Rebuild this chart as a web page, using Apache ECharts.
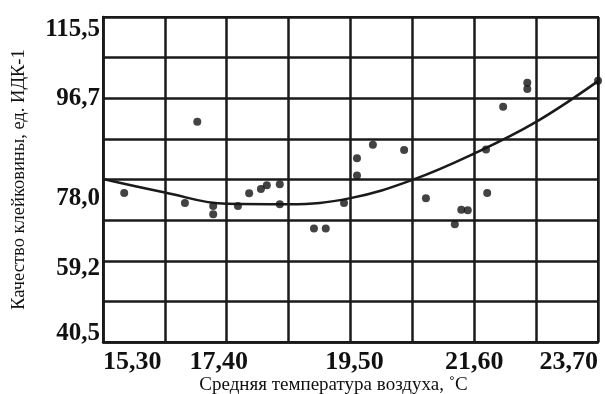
<!DOCTYPE html>
<html>
<head>
<meta charset="utf-8">
<script src="https://cdn.jsdelivr.net/npm/echarts@6/dist/echarts.min.js"></script>
<style>
  html, body { margin: 0; padding: 0; background: #fff; }
  #chart { width: 605px; height: 394px; }
</style>
</head>
<body>
<div id="chart"></div>
<script>
// Scatter: mean air temperature (°C) vs gluten quality (IDK-1 units)
const temperature = [15.66, 16.69, 17.17, 17.17, 17.59, 17.78, 17.98, 18.08, 18.30, 18.30,
                     16.90, 18.88, 19.08, 19.39, 19.61, 19.61, 19.88, 20.41, 20.78, 21.27,
                     21.38, 21.49, 21.82, 21.80, 22.09, 22.50, 22.50, 23.70];
const quality     = [74.9, 72.6, 71.9, 70.0, 71.9, 74.8, 75.8, 76.7, 76.9, 72.3,
                     91.3, 66.7, 66.7, 72.6, 78.9, 82.9, 86.0, 84.8, 73.7, 67.7,
                     71.0, 70.9, 74.9, 84.9, 94.8, 100.3, 98.9, 100.8];

// Trend curve read at each grid column
const curveTemp    = [15.30, 16.35, 17.40, 18.45, 19.50, 20.55, 21.60, 22.65, 23.70];
const curveQuality = [78.1, 75.0, 72.4, 72.3, 73.7, 77.9, 84.0, 91.3, 100.7];

// Axis ticks and their printed labels
const xTickValues = [15.30, 17.40, 19.50, 21.60, 23.70];
const xTickLabels = ['15,30', '17,40', '19,50', '21,60', '23,70'];
const yTickValues = [40.5, 59.25, 78.0, 96.75, 115.5];
const yTickLabels = ['40,5', '59,2', '78,0', '96,7', '115,5'];
// Grid lines (every half step)
const xGridValues = [15.30, 16.35, 17.40, 18.45, 19.50, 20.55, 21.60, 22.65, 23.70];
const yGridValues = [40.5, 49.875, 59.25, 68.625, 78.0, 87.375, 96.75, 106.125, 115.5];

const ink = '#1a1a1a';
const serif = '"Liberation Serif", "Times New Roman", serif';

function nearestIndex(arr, v) {
  let best = 0;
  for (let i = 1; i < arr.length; i++) {
    if (Math.abs(arr[i] - v) < Math.abs(arr[best] - v)) best = i;
  }
  return best;
}

const labelFont = { fontFamily: serif, fontWeight: 'bold', color: '#111' };
const yRich = {
  y0: Object.assign({ fontSize: 25, padding: [0, 0, 17, 0] }, labelFont),
  y1: Object.assign({ fontSize: 25, padding: [15, 0, 0, 0] }, labelFont),
  y2: Object.assign({ fontSize: 25, padding: [38, 0, 0, 0] }, labelFont),
  y3: Object.assign({ fontSize: 25, padding: [0, 0, 0, 0] }, labelFont),
  y4: Object.assign({ fontSize: 25, padding: [25, 0, 0, 0] }, labelFont)
};
const xRich = {
  x0: Object.assign({ fontSize: 26 }, labelFont),
  x1: Object.assign({ fontSize: 26, padding: [0, 16, 0, 0] }, labelFont),
  x2: Object.assign({ fontSize: 26, padding: [0, 0, 0, 8] }, labelFont),
  x3: Object.assign({ fontSize: 26 }, labelFont),
  x4: Object.assign({ fontSize: 26 }, labelFont)
};

const points = temperature.map((t, i) => [t, quality[i]]);
const curve = curveTemp.map((t, i) => [t, curveQuality[i]]);

const chart = echarts.init(document.getElementById('chart'), null, { renderer: 'canvas' });
chart.setOption({
  animation: false,
  backgroundColor: '#ffffff',
  grid: {
    left: 103, top: 17, right: 7, bottom: 52,
    containLabel: false,
    outerBoundsMode: 'none',
    show: true, borderColor: ink, borderWidth: 2, backgroundColor: 'transparent'
  },
  xAxis: {
    type: 'value',
    min: 15.30, max: 23.70,
    name: 'Средняя температура воздуха, ˚С',
    nameLocation: 'middle',
    nameGap: 34,
    nameMoveOverlap: false,
    nameTextStyle: { fontFamily: serif, fontSize: 19, color: '#111', padding: [0, 34, 0, 0] },
    axisLine: { show: true, lineStyle: { color: ink, width: 2.5 } },
    axisTick: { show: false, customValues: xGridValues },
    splitLine: { show: true, lineStyle: { color: ink, width: 2.5 } },
    axisLabel: {
      customValues: xTickValues,
      margin: 7,
      alignMinLabel: 'left',
      alignMaxLabel: 'right',
      formatter: function (v) {
        const i = nearestIndex(xTickValues, v);
        return '{x' + i + '|' + xTickLabels[i] + '}';
      },
      rich: xRich
    }
  },
  yAxis: {
    type: 'value',
    min: 40.5, max: 115.5,
    name: 'Качество клейковины, ед. ИДК-1',
    nameLocation: 'middle',
    nameGap: 74,
    nameMoveOverlap: false,
    nameRotate: 90,
    nameTextStyle: { fontFamily: serif, fontSize: 18.5, color: '#111' },
    axisLine: { show: true, lineStyle: { color: ink, width: 2.5 } },
    axisTick: { show: false, customValues: yGridValues },
    splitLine: { show: true, lineStyle: { color: ink, width: 2.5 } },
    axisLabel: {
      customValues: yTickValues,
      margin: 3,
      formatter: function (v) {
        const i = nearestIndex(yTickValues, v);
        return '{y' + i + '|' + yTickLabels[i] + '}';
      },
      rich: yRich
    }
  },
  series: [
    {
      type: 'line',
      data: curve,
      smooth: 0.4,
      showSymbol: false,
      lineStyle: { color: ink, width: 2.5 },
      z: 3
    },
    {
      type: 'scatter',
      data: points,
      symbol: 'circle',
      symbolSize: 8,
      itemStyle: { color: '#141414' },
      z: 4
    }
  ]
});
</script>
</body>
</html>
